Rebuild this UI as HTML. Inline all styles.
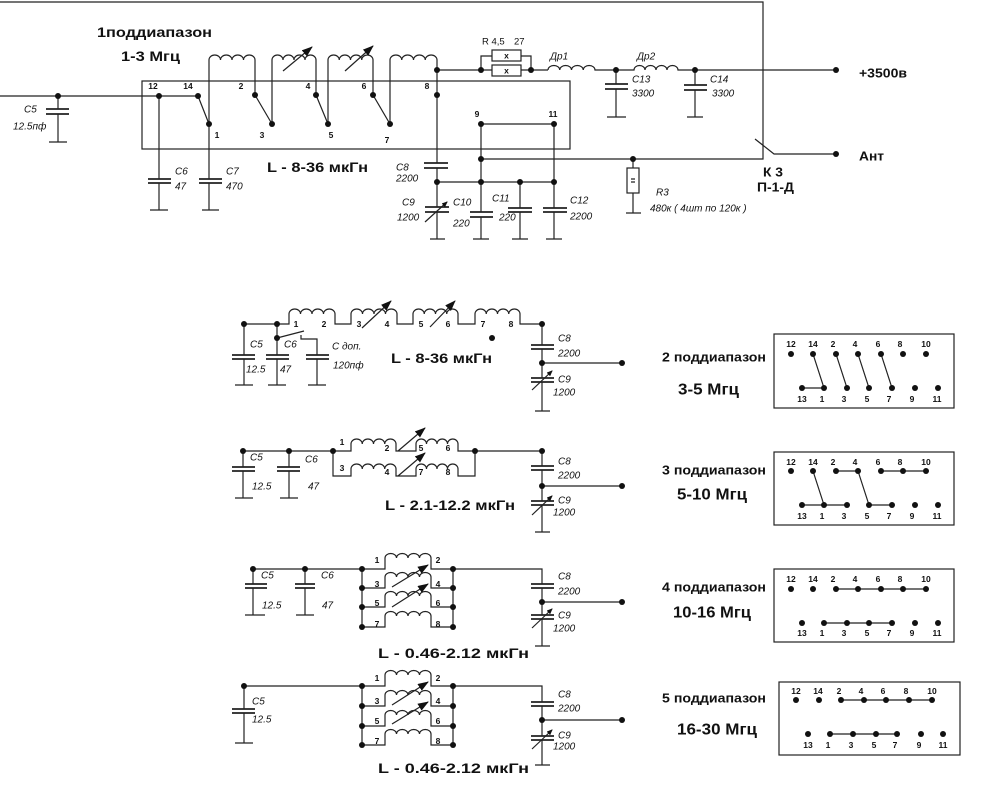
<!DOCTYPE html>
<html><head><meta charset="utf-8">
<style>
html,body{margin:0;padding:0;background:#fff;}
svg{display:block;}
.w{fill:none;stroke:#222;stroke-width:1.2;}
.p{fill:none;stroke:#222;stroke-width:1.7;}
.d{fill:#111;}
text{font-family:"Liberation Sans",Arial,sans-serif;fill:#111;dominant-baseline:central;}
.n{font-size:8.5px;font-weight:bold;text-anchor:middle;}
.i{font-size:10px;font-style:italic;}
.b{font-weight:bold;}
</style></head><body>
<svg width="983" height="797" viewBox="0 0 983 797" xmlns="http://www.w3.org/2000/svg">
<defs>
<marker id="a" markerUnits="userSpaceOnUse" markerWidth="11" markerHeight="8" refX="10" refY="4" orient="auto" viewBox="0 0 11 8"><path d="M0,0 L11,4 L0,8 z" fill="#111"/></marker>
<marker id="s" markerUnits="userSpaceOnUse" markerWidth="6" markerHeight="5" refX="5" refY="2.5" orient="auto" viewBox="0 0 6 5"><path d="M0,0 L6,2.5 L0,5 z" fill="#111"/></marker>
</defs>

<!-- ============ TOP SECTION ============ -->
<path class="w" d="M0,2 H763 V159 H481"/>
<path class="w" d="M755,139 L774,154 H836"/>
<rect class="w" x="142" y="81" width="428" height="68"/>
<path class="w" d="M0,96 H198"/>
<path class="w" d="M198,96 L209,124 M255,95 L272,124 M316,95 L328,124 M373,95 L390,124"/>
<!-- coils -->
<path class="w" d="M209,124 V60 a5.75,5 0 0 1 11.5,0 a5.75,5 0 0 1 11.5,0 a5.75,5 0 0 1 11.5,0 a5.75,5 0 0 1 11.5,0 V95"/>
<path class="w" d="M272,124 V60 a5.5,5 0 0 1 11,0 a5.5,5 0 0 1 11,0 a5.5,5 0 0 1 11,0 a5.5,5 0 0 1 11,0 V95"/>
<path class="w" d="M328,124 V60 a5.625,5 0 0 1 11.25,0 a5.625,5 0 0 1 11.25,0 a5.625,5 0 0 1 11.25,0 a5.625,5 0 0 1 11.25,0 V95"/>
<path class="w" d="M390,124 V60 a5.875,5 0 0 1 11.75,0 a5.875,5 0 0 1 11.75,0 a5.875,5 0 0 1 11.75,0 a5.875,5 0 0 1 11.75,0 V163"/>
<path class="w" d="M283,71 L312,47" marker-end="url(#a)"/>
<path class="w" d="M345,71 L373,46" marker-end="url(#a)"/>
<!-- C7 / C6 / C5 -->
<path class="w" d="M209,124 V179 M209,183 V210 M202,210 H219"/>
<path class="p" d="M199,179 H222 M199,183 H222"/>
<path class="w" d="M159,96 V179 M159,183 V210 M150,210 H168"/>
<path class="p" d="M148,179 H171 M148,183 H171"/>
<path class="w" d="M58,96 V109 M58,114 V142 M49,142 H67"/>
<path class="p" d="M46,109 H69 M46,114 H69"/>
<!-- C8 C9 -->
<path class="p" d="M424,163 H448 M424,168 H448"/>
<path class="w" d="M437,168 V207 M437,212 V239 M430,239 H445"/>
<path class="p" d="M425,207 H449 M425,212 H449"/>
<path class="w" d="M425,222 L447,202" marker-end="url(#s)"/>
<!-- R4,5 -->
<path class="w" d="M437,70 H492 M521,70 H548 M481,70 V56 H492 M521,56 H531 V70"/>
<rect class="w" x="492" y="50" width="29" height="11"/>
<rect class="w" x="492" y="65" width="29" height="11"/>
<text class="n" x="506.5" y="55.5">x</text>
<text class="n" x="506.5" y="70.5">x</text>
<!-- chokes -->
<path class="w" d="M548,70 a5.875,4.5 0 0 1 11.75,0 a5.875,4.5 0 0 1 11.75,0 a5.875,4.5 0 0 1 11.75,0 a5.875,4.5 0 0 1 11.75,0 H634 a5.5,4.5 0 0 1 11,0 a5.5,4.5 0 0 1 11,0 a5.5,4.5 0 0 1 11,0 a5.5,4.5 0 0 1 11,0 H836"/>
<path class="w" d="M616,70 V84 M616,89 V117 M607,117 H626"/>
<path class="p" d="M605,84 H628 M605,89 H628"/>
<path class="w" d="M695,70 V85 M695,90 V117 M687,117 H703"/>
<path class="p" d="M684,85 H707 M684,90 H707"/>
<!-- 9-11, C10-C12 -->
<path class="w" d="M481,124 H554 M481,124 V212 M481,217 V239 M473,239 H489"/>
<path class="p" d="M470,212 H493 M470,217 H493"/>
<path class="w" d="M554,124 V208 M554,212 V239 M546,239 H562"/>
<path class="p" d="M543,208 H567 M543,212 H567"/>
<path class="w" d="M520,182 V208 M520,212 V239 M512,239 H528"/>
<path class="p" d="M508,208 H532 M508,212 H532"/>
<path class="w" d="M437,182 H554"/>
<!-- R3 -->
<path class="w" d="M633,159 V168 M633,193 V213 M626,213 H641"/>
<rect class="w" x="627" y="168" width="12" height="25"/>
<path class="w" d="M631,179 H635 M631,182 H635"/>
<!-- dots top -->
<g class="d">
<circle cx="58" cy="96" r="3"/><circle cx="159" cy="96" r="3"/><circle cx="198" cy="96" r="3"/>
<circle cx="209" cy="124" r="3"/><circle cx="255" cy="95" r="3"/><circle cx="272" cy="124" r="3"/>
<circle cx="316" cy="95" r="3"/><circle cx="328" cy="124" r="3"/><circle cx="373" cy="95" r="3"/>
<circle cx="390" cy="124" r="3"/><circle cx="437" cy="95" r="3"/><circle cx="437" cy="70" r="3"/>
<circle cx="481" cy="70" r="3"/><circle cx="531" cy="70" r="3"/><circle cx="616" cy="70" r="3"/>
<circle cx="695" cy="70" r="3"/><circle cx="836" cy="70" r="3"/><circle cx="836" cy="154" r="3"/>
<circle cx="481" cy="124" r="3"/><circle cx="554" cy="124" r="3"/><circle cx="481" cy="159" r="3"/>
<circle cx="633" cy="159" r="3"/><circle cx="437" cy="182" r="3"/><circle cx="481" cy="182" r="3"/>
<circle cx="520" cy="182" r="3"/><circle cx="554" cy="182" r="3"/>
</g>
<!-- top labels -->
<text class="n" x="153" y="86">12</text><text class="n" x="188" y="86">14</text>
<text class="n" x="241" y="86">2</text><text class="n" x="308" y="86">4</text>
<text class="n" x="364" y="86">6</text><text class="n" x="427" y="86">8</text>
<text class="n" x="217" y="135">1</text><text class="n" x="262" y="135">3</text>
<text class="n" x="331" y="135">5</text><text class="n" x="387" y="140">7</text>
<text class="n" x="477" y="114">9</text><text class="n" x="553" y="114">11</text>

<text class="b" x="97" y="32" font-size="14" textLength="115" lengthAdjust="spacingAndGlyphs">1поддиапазон</text>
<text class="b" x="121" y="56" font-size="14" textLength="59" lengthAdjust="spacingAndGlyphs">1-3 Мгц</text>
<text class="b" x="267" y="167" font-size="14" textLength="101" lengthAdjust="spacingAndGlyphs">L - 8-36 мкГн</text>
<text class="b" x="859" y="73" font-size="13" textLength="48" lengthAdjust="spacingAndGlyphs">+3500в</text>
<text class="b" x="859" y="156" font-size="13" textLength="25" lengthAdjust="spacingAndGlyphs">Ант</text>
<text class="b" x="763" y="172" font-size="13" textLength="20" lengthAdjust="spacingAndGlyphs">К 3</text>
<text class="b" x="757" y="187" font-size="13" textLength="37" lengthAdjust="spacingAndGlyphs">П-1-Д</text>

<text class="i" x="24" y="110">C5</text><text class="i" x="13" y="127">12.5пф</text>
<text class="i" x="175" y="172">C6</text><text class="i" x="175" y="187">47</text>
<text class="i" x="226" y="172">C7</text><text class="i" x="226" y="187">470</text>
<text class="i" x="396" y="168">C8</text><text class="i" x="396" y="179">2200</text>
<text class="i" x="402" y="203">C9</text><text class="i" x="397" y="218">1200</text>
<text class="i" x="453" y="203">C10</text><text class="i" x="453" y="224">220</text>
<text class="i" x="492" y="199">C11</text><text class="i" x="499" y="218">220</text>
<text class="i" x="570" y="201">C12</text><text class="i" x="570" y="217">2200</text>
<text class="i" x="632" y="80">C13</text><text class="i" x="632" y="94">3300</text>
<text class="i" x="710" y="80">C14</text><text class="i" x="712" y="94">3300</text>
<text class="i" x="550" y="57">Др1</text><text class="i" x="637" y="57">Др2</text>
<text x="482" y="42" font-size="9.5">R 4,5</text><text x="514" y="42" font-size="9.5">27</text>
<text class="i" x="656" y="193">R3</text>
<text class="i" x="650" y="209" font-size="9">480к ( 4шт по 120к )</text>

<!-- ============ SECTION 2 ============ -->
<path class="w" d="M244,324 H289 V314 a5.75,5 0 0 1 11.5,0 a5.75,5 0 0 1 11.5,0 a5.75,5 0 0 1 11.5,0 a5.75,5 0 0 1 11.5,0 V324 H351 V314 a5.75,5 0 0 1 11.5,0 a5.75,5 0 0 1 11.5,0 a5.75,5 0 0 1 11.5,0 a5.75,5 0 0 1 11.5,0 V324 H413 V314 a5.625,5 0 0 1 11.25,0 a5.625,5 0 0 1 11.25,0 a5.625,5 0 0 1 11.25,0 a5.625,5 0 0 1 11.25,0 V324 H475 V314 a5.625,5 0 0 1 11.25,0 a5.625,5 0 0 1 11.25,0 a5.625,5 0 0 1 11.25,0 a5.625,5 0 0 1 11.25,0 V324 H542 V345"/>
<path class="w" d="M362,328 L391,301" marker-end="url(#a)"/>
<path class="w" d="M430,327 L455,301" marker-end="url(#a)"/>
<path class="w" d="M244,324 V355 M244,359 V385 M235,385 H253"/>
<path class="p" d="M232,355 H255 M232,359 H255"/>
<path class="w" d="M277,324 V355 M277,359 V385 M268,385 H286"/>
<path class="p" d="M266,355 H289 M266,359 H289"/>
<path class="w" d="M277,338 L304,331 M301,335 V339 H317 V355 M317,359 V385 M308,385 H326"/>
<path class="p" d="M306,355 H329 M306,359 H329"/>
<path class="p" d="M531,345 H554 M531,349 H554"/>
<path class="w" d="M542,349 V378 M542,382 V411 M535,411 H550 M542,363 H622"/>
<path class="p" d="M531,378 H554 M531,382 H554"/>
<path class="w" d="M532,390 L552,371" marker-end="url(#s)"/>
<g class="d">
<circle cx="244" cy="324" r="3"/><circle cx="277" cy="324" r="3"/><circle cx="277" cy="338" r="3"/>
<circle cx="542" cy="324" r="3"/><circle cx="542" cy="363" r="3"/><circle cx="622" cy="363" r="3"/>
<circle cx="492" cy="338" r="3"/>
</g>
<text class="n" x="296" y="324">1</text><text class="n" x="324" y="324">2</text>
<text class="n" x="359" y="324">3</text><text class="n" x="387" y="324">4</text>
<text class="n" x="421" y="324">5</text><text class="n" x="448" y="324">6</text>
<text class="n" x="483" y="324">7</text><text class="n" x="511" y="324">8</text>
<text class="i" x="250" y="345">C5</text><text class="i" x="246" y="370">12.5</text>
<text class="i" x="284" y="345">C6</text><text class="i" x="280" y="370">47</text>
<text class="i" x="332" y="347">С доп.</text><text class="i" x="333" y="366">120пф</text>
<text class="i" x="558" y="339">C8</text><text class="i" x="558" y="354">2200</text>
<text class="i" x="558" y="380">C9</text><text class="i" x="553" y="393">1200</text>
<text class="b" x="391" y="358" font-size="14" textLength="101" lengthAdjust="spacingAndGlyphs">L - 8-36 мкГн</text>

<!-- ============ SECTION 3 ============ -->
<path class="w" d="M243,451 H351 V444 a5.625,5 0 0 1 11.25,0 a5.625,5 0 0 1 11.25,0 a5.625,5 0 0 1 11.25,0 a5.625,5 0 0 1 11.25,0 V451 H416 V444 a5.25,5 0 0 1 10.5,0 a5.25,5 0 0 1 10.5,0 a5.25,5 0 0 1 10.5,0 a5.25,5 0 0 1 10.5,0 V451 H542 V466"/>
<path class="w" d="M333,451 V476 H351 V469 a5.625,5 0 0 1 11.25,0 a5.625,5 0 0 1 11.25,0 a5.625,5 0 0 1 11.25,0 a5.625,5 0 0 1 11.25,0 V476 H416 V469 a5.25,5 0 0 1 10.5,0 a5.25,5 0 0 1 10.5,0 a5.25,5 0 0 1 10.5,0 a5.25,5 0 0 1 10.5,0 V476 H475 V451"/>
<path class="w" d="M398,451 L425,428" marker-end="url(#a)"/>
<path class="w" d="M398,476 L425,453" marker-end="url(#a)"/>
<path class="w" d="M243,451 V467 M243,471 V498 M235,498 H253"/>
<path class="p" d="M232,467 H255 M232,471 H255"/>
<path class="w" d="M289,451 V467 M289,471 V498 M280,498 H298"/>
<path class="p" d="M277,467 H300 M277,471 H300"/>
<path class="p" d="M531,466 H554 M531,470 H554"/>
<path class="w" d="M542,470 V501 M542,505 V532 M535,532 H550 M542,486 H622"/>
<path class="p" d="M531,501 H554 M531,505 H554"/>
<path class="w" d="M532,515 L552,496" marker-end="url(#s)"/>
<g class="d">
<circle cx="243" cy="451" r="3"/><circle cx="289" cy="451" r="3"/><circle cx="333" cy="451" r="3"/>
<circle cx="475" cy="451" r="3"/><circle cx="542" cy="451" r="3"/><circle cx="542" cy="486" r="3"/>
<circle cx="622" cy="486" r="3"/>
</g>
<text class="n" x="342" y="442">1</text><text class="n" x="387" y="448">2</text>
<text class="n" x="421" y="448">5</text><text class="n" x="448" y="448">6</text>
<text class="n" x="342" y="468">3</text><text class="n" x="387" y="472">4</text>
<text class="n" x="421" y="472">7</text><text class="n" x="448" y="472">8</text>
<text class="i" x="250" y="458">C5</text><text class="i" x="252" y="487">12.5</text>
<text class="i" x="305" y="460">C6</text><text class="i" x="308" y="487">47</text>
<text class="i" x="558" y="462">C8</text><text class="i" x="558" y="476">2200</text>
<text class="i" x="558" y="501">C9</text><text class="i" x="553" y="513">1200</text>
<text class="b" x="385" y="505" font-size="14" textLength="130" lengthAdjust="spacingAndGlyphs">L - 2.1-12.2 мкГн</text>

<!-- ============ SECTION 4 ============ -->
<path class="w" d="M253,569 H362 M362,569 V627 M453,569 V627"/>
<path class="w" d="M362,569 H385 V558 a5.75,4.5 0 0 1 11.5,0 a5.75,4.5 0 0 1 11.5,0 a5.75,4.5 0 0 1 11.5,0 a5.75,4.5 0 0 1 11.5,0 V569 H453"/>
<path class="w" d="M362,588 H385 V577 a5.75,4.5 0 0 1 11.5,0 a5.75,4.5 0 0 1 11.5,0 a5.75,4.5 0 0 1 11.5,0 a5.75,4.5 0 0 1 11.5,0 V588 H453"/>
<path class="w" d="M362,607 H385 V596 a5.75,4.5 0 0 1 11.5,0 a5.75,4.5 0 0 1 11.5,0 a5.75,4.5 0 0 1 11.5,0 a5.75,4.5 0 0 1 11.5,0 V607 H453"/>
<path class="w" d="M362,627 H385 V616 a5.75,4.5 0 0 1 11.5,0 a5.75,4.5 0 0 1 11.5,0 a5.75,4.5 0 0 1 11.5,0 a5.75,4.5 0 0 1 11.5,0 V627 H453"/>
<path class="w" d="M392,587 L428,565" marker-end="url(#a)"/>
<path class="w" d="M392,607 L428,584" marker-end="url(#a)"/>
<path class="w" d="M253,569 V584 M253,588 V615 M245,615 H265"/>
<path class="p" d="M245,584 H267 M245,588 H267"/>
<path class="w" d="M305,569 V584 M305,588 V615 M296,615 H314"/>
<path class="p" d="M295,584 H315 M295,588 H315"/>
<path class="w" d="M453,569 H542 V584 M542,588 V615 M542,619 V646 M535,646 H550 M542,602 H622"/>
<path class="p" d="M531,584 H554 M531,588 H554 M531,615 H554 M531,619 H554"/>
<path class="w" d="M532,628 L552,609" marker-end="url(#s)"/>
<g class="d">
<circle cx="253" cy="569" r="3"/><circle cx="305" cy="569" r="3"/>
<circle cx="362" cy="569" r="3"/><circle cx="362" cy="588" r="3"/><circle cx="362" cy="607" r="3"/><circle cx="362" cy="627" r="3"/>
<circle cx="453" cy="569" r="3"/><circle cx="453" cy="588" r="3"/><circle cx="453" cy="607" r="3"/><circle cx="453" cy="627" r="3"/>
<circle cx="542" cy="602" r="3"/><circle cx="622" cy="602" r="3"/>
</g>
<text class="n" x="377" y="560">1</text><text class="n" x="438" y="560">2</text>
<text class="n" x="377" y="584">3</text><text class="n" x="438" y="584">4</text>
<text class="n" x="377" y="603">5</text><text class="n" x="438" y="603">6</text>
<text class="n" x="377" y="624">7</text><text class="n" x="438" y="624">8</text>
<text class="i" x="261" y="576">C5</text><text class="i" x="262" y="606">12.5</text>
<text class="i" x="321" y="576">C6</text><text class="i" x="322" y="606">47</text>
<text class="i" x="558" y="577">C8</text><text class="i" x="558" y="592">2200</text>
<text class="i" x="558" y="616">C9</text><text class="i" x="553" y="629">1200</text>
<text class="b" x="378" y="653" font-size="14" textLength="151" lengthAdjust="spacingAndGlyphs">L - 0.46-2.12 мкГн</text>

<!-- ============ SECTION 5 ============ -->
<path class="w" d="M244,686 H362 M362,686 V745 M453,686 V745"/>
<path class="w" d="M362,686 H385 V675 a5.75,4.5 0 0 1 11.5,0 a5.75,4.5 0 0 1 11.5,0 a5.75,4.5 0 0 1 11.5,0 a5.75,4.5 0 0 1 11.5,0 V686 H453"/>
<path class="w" d="M362,706 H385 V695 a5.75,4.5 0 0 1 11.5,0 a5.75,4.5 0 0 1 11.5,0 a5.75,4.5 0 0 1 11.5,0 a5.75,4.5 0 0 1 11.5,0 V706 H453"/>
<path class="w" d="M362,726 H385 V715 a5.75,4.5 0 0 1 11.5,0 a5.75,4.5 0 0 1 11.5,0 a5.75,4.5 0 0 1 11.5,0 a5.75,4.5 0 0 1 11.5,0 V726 H453"/>
<path class="w" d="M362,745 H385 V734 a5.75,4.5 0 0 1 11.5,0 a5.75,4.5 0 0 1 11.5,0 a5.75,4.5 0 0 1 11.5,0 a5.75,4.5 0 0 1 11.5,0 V745 H453"/>
<path class="w" d="M392,705 L428,682" marker-end="url(#a)"/>
<path class="w" d="M392,724 L428,702" marker-end="url(#a)"/>
<path class="w" d="M244,686 V709 M244,713 V743 M235,743 H253"/>
<path class="p" d="M232,709 H255 M232,713 H255"/>
<path class="w" d="M453,686 H542 V702 M542,706 V736 M542,740 V765 M535,765 H550 M542,720 H622"/>
<path class="p" d="M531,702 H554 M531,706 H554 M531,736 H554 M531,740 H554"/>
<path class="w" d="M532,749 L552,730" marker-end="url(#s)"/>
<g class="d">
<circle cx="244" cy="686" r="3"/>
<circle cx="362" cy="686" r="3"/><circle cx="362" cy="706" r="3"/><circle cx="362" cy="726" r="3"/><circle cx="362" cy="745" r="3"/>
<circle cx="453" cy="686" r="3"/><circle cx="453" cy="706" r="3"/><circle cx="453" cy="726" r="3"/><circle cx="453" cy="745" r="3"/>
<circle cx="542" cy="720" r="3"/><circle cx="622" cy="720" r="3"/>
</g>
<text class="n" x="377" y="678">1</text><text class="n" x="438" y="678">2</text>
<text class="n" x="377" y="701">3</text><text class="n" x="438" y="701">4</text>
<text class="n" x="377" y="721">5</text><text class="n" x="438" y="721">6</text>
<text class="n" x="377" y="741">7</text><text class="n" x="438" y="741">8</text>
<text class="i" x="252" y="702">C5</text><text class="i" x="252" y="720">12.5</text>
<text class="i" x="558" y="695">C8</text><text class="i" x="558" y="709">2200</text>
<text class="i" x="558" y="736">C9</text><text class="i" x="553" y="747">1200</text>
<text class="b" x="378" y="768" font-size="14" textLength="151" lengthAdjust="spacingAndGlyphs">L - 0.46-2.12 мкГн</text>

<!-- ============ SWITCH BOXES ============ -->
<!-- Box 2 -->
<rect class="w" x="774" y="334" width="180" height="74"/>
<path class="w" d="M802,388 H824 M813,354 L824,388 M836,354 L847,388 M858,354 L869,388 M881,354 L892,388"/>
<g class="d">
<circle cx="791" cy="354" r="3"/><circle cx="813" cy="354" r="3"/><circle cx="836" cy="354" r="3"/><circle cx="858" cy="354" r="3"/><circle cx="881" cy="354" r="3"/><circle cx="903" cy="354" r="3"/><circle cx="926" cy="354" r="3"/>
<circle cx="802" cy="388" r="3"/><circle cx="824" cy="388" r="3"/><circle cx="847" cy="388" r="3"/><circle cx="869" cy="388" r="3"/><circle cx="892" cy="388" r="3"/><circle cx="915" cy="388" r="3"/><circle cx="938" cy="388" r="3"/>
</g>
<text class="n" x="791" y="344">12</text><text class="n" x="813" y="344">14</text><text class="n" x="833" y="344">2</text><text class="n" x="855" y="344">4</text><text class="n" x="878" y="344">6</text><text class="n" x="900" y="344">8</text><text class="n" x="926" y="344">10</text>
<text class="n" x="802" y="399">13</text><text class="n" x="822" y="399">1</text><text class="n" x="844" y="399">3</text><text class="n" x="867" y="399">5</text><text class="n" x="889" y="399">7</text><text class="n" x="912" y="399">9</text><text class="n" x="937" y="399">11</text>
<text class="b" x="662" y="357" font-size="13" textLength="104" lengthAdjust="spacingAndGlyphs">2 поддиапазон</text>
<text class="b" x="678" y="390" font-size="16" textLength="61" lengthAdjust="spacingAndGlyphs">3-5 Мгц</text>

<!-- Box 3 -->
<rect class="w" x="774" y="452" width="180" height="73"/>
<path class="w" d="M836,471 H858 M881,471 H926 M802,505 H847 M869,505 H892 M813,471 L824,505 M858,471 L869,505"/>
<g class="d">
<circle cx="791" cy="471" r="3"/><circle cx="813" cy="471" r="3"/><circle cx="836" cy="471" r="3"/><circle cx="858" cy="471" r="3"/><circle cx="881" cy="471" r="3"/><circle cx="903" cy="471" r="3"/><circle cx="926" cy="471" r="3"/>
<circle cx="802" cy="505" r="3"/><circle cx="824" cy="505" r="3"/><circle cx="847" cy="505" r="3"/><circle cx="869" cy="505" r="3"/><circle cx="892" cy="505" r="3"/><circle cx="915" cy="505" r="3"/><circle cx="938" cy="505" r="3"/>
</g>
<text class="n" x="791" y="462">12</text><text class="n" x="813" y="462">14</text><text class="n" x="833" y="462">2</text><text class="n" x="855" y="462">4</text><text class="n" x="878" y="462">6</text><text class="n" x="900" y="462">8</text><text class="n" x="926" y="462">10</text>
<text class="n" x="802" y="516">13</text><text class="n" x="822" y="516">1</text><text class="n" x="844" y="516">3</text><text class="n" x="867" y="516">5</text><text class="n" x="889" y="516">7</text><text class="n" x="912" y="516">9</text><text class="n" x="937" y="516">11</text>
<text class="b" x="662" y="470" font-size="13" textLength="104" lengthAdjust="spacingAndGlyphs">3 поддиапазон</text>
<text class="b" x="677" y="495" font-size="16" textLength="70" lengthAdjust="spacingAndGlyphs">5-10 Мгц</text>

<!-- Box 4 -->
<rect class="w" x="774" y="569" width="180" height="73"/>
<path class="w" d="M836,589 H926 M824,623 H892"/>
<g class="d">
<circle cx="791" cy="589" r="3"/><circle cx="813" cy="589" r="3"/><circle cx="836" cy="589" r="3"/><circle cx="858" cy="589" r="3"/><circle cx="881" cy="589" r="3"/><circle cx="903" cy="589" r="3"/><circle cx="926" cy="589" r="3"/>
<circle cx="802" cy="623" r="3"/><circle cx="824" cy="623" r="3"/><circle cx="847" cy="623" r="3"/><circle cx="869" cy="623" r="3"/><circle cx="892" cy="623" r="3"/><circle cx="915" cy="623" r="3"/><circle cx="938" cy="623" r="3"/>
</g>
<text class="n" x="791" y="579">12</text><text class="n" x="813" y="579">14</text><text class="n" x="833" y="579">2</text><text class="n" x="855" y="579">4</text><text class="n" x="878" y="579">6</text><text class="n" x="900" y="579">8</text><text class="n" x="926" y="579">10</text>
<text class="n" x="802" y="633">13</text><text class="n" x="822" y="633">1</text><text class="n" x="844" y="633">3</text><text class="n" x="867" y="633">5</text><text class="n" x="889" y="633">7</text><text class="n" x="912" y="633">9</text><text class="n" x="937" y="633">11</text>
<text class="b" x="662" y="587" font-size="13" textLength="104" lengthAdjust="spacingAndGlyphs">4 поддиапазон</text>
<text class="b" x="673" y="613" font-size="16" textLength="78" lengthAdjust="spacingAndGlyphs">10-16 Мгц</text>

<!-- Box 5 -->
<rect class="w" x="779" y="682" width="181" height="73"/>
<path class="w" d="M841,700 H932 M830,734 H897"/>
<g class="d">
<circle cx="796" cy="700" r="3"/><circle cx="819" cy="700" r="3"/><circle cx="841" cy="700" r="3"/><circle cx="864" cy="700" r="3"/><circle cx="886" cy="700" r="3"/><circle cx="909" cy="700" r="3"/><circle cx="932" cy="700" r="3"/>
<circle cx="808" cy="734" r="3"/><circle cx="830" cy="734" r="3"/><circle cx="853" cy="734" r="3"/><circle cx="876" cy="734" r="3"/><circle cx="897" cy="734" r="3"/><circle cx="921" cy="734" r="3"/><circle cx="943" cy="734" r="3"/>
</g>
<text class="n" x="796" y="691">12</text><text class="n" x="818" y="691">14</text><text class="n" x="839" y="691">2</text><text class="n" x="861" y="691">4</text><text class="n" x="883" y="691">6</text><text class="n" x="906" y="691">8</text><text class="n" x="932" y="691">10</text>
<text class="n" x="808" y="745">13</text><text class="n" x="828" y="745">1</text><text class="n" x="851" y="745">3</text><text class="n" x="874" y="745">5</text><text class="n" x="895" y="745">7</text><text class="n" x="919" y="745">9</text><text class="n" x="943" y="745">11</text>
<text class="b" x="662" y="698" font-size="13" textLength="104" lengthAdjust="spacingAndGlyphs">5 поддиапазон</text>
<text class="b" x="677" y="730" font-size="16" textLength="80" lengthAdjust="spacingAndGlyphs">16-30 Мгц</text>
</svg>
</body></html>
